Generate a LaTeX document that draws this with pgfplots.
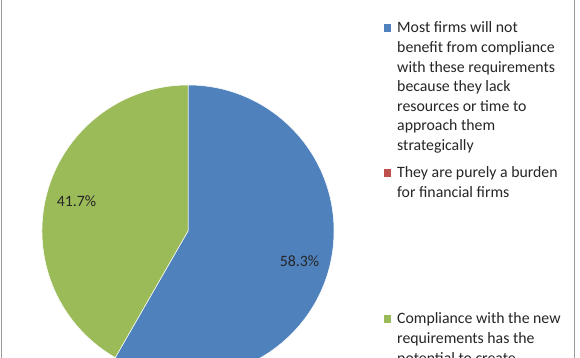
\documentclass[border=0pt]{standalone}
\usepackage{pgfplots}
\pgfplotsset{compat=1.18}
\usepackage{pgfplotstable}
\usepackage{fontspec}
\setmainfont{Carlito}
\definecolor{sblue}{HTML}{4F81BD}
\definecolor{sred}{HTML}{C0504D}
\definecolor{sgreen}{HTML}{9BBB59}
\definecolor{framegray}{HTML}{9A9A9A}
\newcommand\lfont{\fontsize{15.8}{19.6}\selectfont}
\newcommand\lline[2]{\node[anchor=base west,inner sep=0pt,font=\lfont,text=black!85] at (397pt,#1pt) {#2};}
\pgfplotstableread{
value
58.3
0
41.7
}\piedata
\begin{document}
\begin{tikzpicture}
\pgfplotstablegetelem{0}{value}\of\piedata \let\vA\pgfplotsretval
\pgfplotstablegetelem{1}{value}\of\piedata \let\vB\pgfplotsretval
\pgfplotstablegetelem{2}{value}\of\piedata \let\vC\pgfplotsretval
\pgfmathsetmacro\aA{90}
\pgfmathsetmacro\aB{\aA-3.6*\vA}
\pgfmathsetmacro\aC{\aB-3.6*\vB}
\pgfmathsetmacro\aD{\aC-3.6*\vC}
\pgfmathsetmacro\xA{cos(\aA)}\pgfmathsetmacro\yA{sin(\aA)}
\pgfmathsetmacro\xC{cos(\aC)}\pgfmathsetmacro\yC{sin(\aC)}
\pgfmathsetmacro\mA{(\aA+\aB)/2}
\pgfmathsetmacro\mC{(\aC+\aD)/2}
\pgfmathsetmacro\lxA{0.79*cos(\mA)}\pgfmathsetmacro\lyA{0.79*sin(\mA)}
\pgfmathsetmacro\lxC{0.79*cos(\mC)}\pgfmathsetmacro\lyC{0.79*sin(\mC)}
\path[use as bounding box] (0pt,0pt) rectangle (580pt,358pt);
\clip (0pt,0pt) rectangle (580pt,358pt);
\fill[white] (0pt,0pt) rectangle (580pt,358pt);
\draw[framegray, line width=1pt] (1pt,-5pt) -- (1pt,363pt);
\draw[framegray, line width=1pt] (574pt,-5pt) -- (574pt,363pt);
\begin{axis}[at={(188pt,127pt)}, anchor=origin, x=146pt, y=146pt,
  xmin=-1, xmax=1, ymin=-1, ymax=1, hide axis, clip=false]
\fill[sblue, draw=white, line width=0.5pt] (axis cs:0,0) -- (axis cs:\xA,\yA) arc[start angle=\aA, end angle=\aB, radius=146pt] -- cycle;
\fill[sgreen, draw=white, line width=0.5pt] (axis cs:0,0) -- (axis cs:\xC,\yC) arc[start angle=\aC, end angle=\aD, radius=146pt] -- cycle;
\node[font=\lfont, text=black!85] at (axis cs:\lxA,\lyA) {58.3\%};
\node[font=\lfont, text=black!85] at (axis cs:\lxC,\lyC) {41.7\%};
\end{axis}
% legend
\fill[sblue] (383.5pt,326pt) rectangle (391pt,333.5pt);
\lline{325}{Most firms will not}
\lline{305.4}{benefit from compliance}
\lline{285.8}{with these requirements}
\lline{266.2}{because they lack}
\lline{246.6}{resources or time to}
\lline{227}{approach them}
\lline{207.4}{strategically}
\fill[sred] (383.5pt,181pt) rectangle (391pt,188.5pt);
\lline{180}{They are purely a burden}
\lline{160.5}{for financial firms}
\fill[sgreen] (383.5pt,35pt) rectangle (391pt,42.5pt);
\lline{34}{Compliance with the new}
\lline{14.4}{requirements has the}
\lline{-5.2}{potential to create}
\end{tikzpicture}
\end{document}
